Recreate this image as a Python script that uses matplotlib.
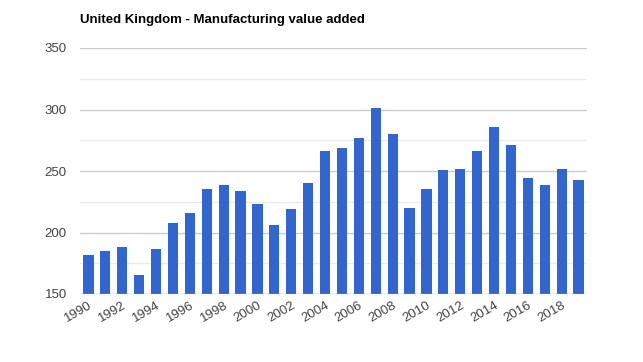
import matplotlib
matplotlib.use("Agg")
from matplotlib import pyplot as plt

years = list(range(1990, 2020))
values = [182, 185, 188, 165.5, 186.5, 207.5, 215.5, 235, 239, 233.5,
          223, 206, 219, 240, 266.5, 268.5, 277, 301, 280, 220,
          235, 250.5, 252, 266, 286, 271.5, 244, 238.5, 252, 242.5]
tick_years = list(range(1990, 2019, 2))
y_ticks = [150, 200, 250, 300, 350]

plt.rcParams['font.family'] = ['Liberation Sans', 'DejaVu Sans']

fig = plt.figure(figsize=(6.43, 3.62), dpi=100)
ax = fig.add_axes([80 / 643, 1 - 294 / 362, 507 / 643, 246 / 362])

# minor / major gridlines
for v in range(175, 350, 50):
    ax.axhline(v, color="#ebebeb", lw=1, zorder=0)
for v in y_ticks[1:]:
    ax.axhline(v, color="#cccccc", lw=1, zorder=0)

ax.bar(years, [v - 150 for v in values], bottom=150, width=0.6,
       color="#3366cc", zorder=2)
ax.axhline(150, color="#999999", lw=1, zorder=3)

ax.set_xlim(1989.5, 2019.5)
ax.set_ylim(150, 350)
ax.set_yticks(y_ticks)
ax.set_yticklabels([str(v) for v in y_ticks], color="#444444", fontsize=9.5)
ax.set_xticks(tick_years)
ax.set_xticklabels([str(y) for y in tick_years], rotation=30, ha="right",
                   va="top", rotation_mode="anchor", color="#444444", fontsize=9.5)
ax.tick_params(length=0)
ax.tick_params(axis="y", pad=9.5)
ax.tick_params(axis="x", pad=4)
for s in ax.spines.values():
    s.set_visible(False)

fig.text(80 / 643, 1 - 20 / 362, "United Kingdom - Manufacturing value added",
         fontsize=9.5, fontweight="bold", color="#000000", va="center", ha="left")

fig.savefig("out.png", dpi=100)
